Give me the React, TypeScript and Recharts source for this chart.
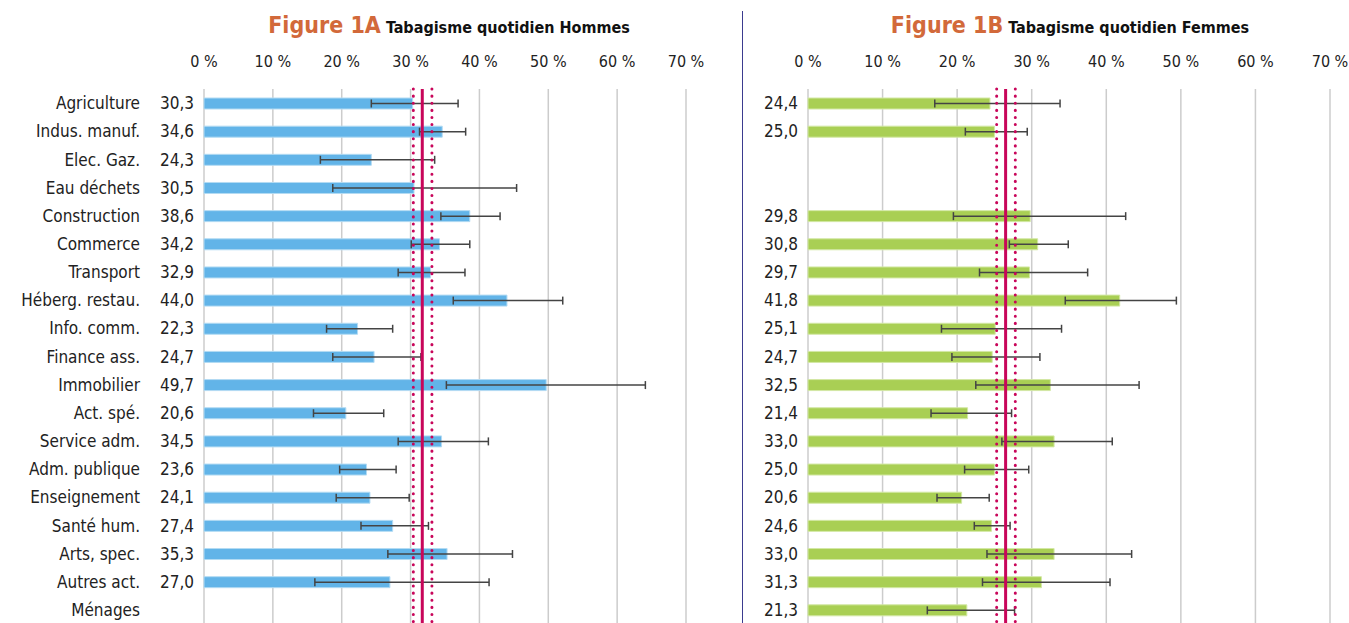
import React from 'react';
import { BarChart, Bar, XAxis, YAxis, CartesianGrid, ReferenceLine, ErrorBar } from 'recharts';

const categories = ['Agriculture', 'Indus. manuf.', 'Elec. Gaz.', 'Eau déchets', 'Construction', 'Commerce', 'Transport', 'Héberg. restau.', 'Info. comm.', 'Finance ass.', 'Immobilier', 'Act. spé.', 'Service adm.', 'Adm. publique', 'Enseignement', 'Santé hum.', 'Arts, spec.', 'Autres act.', 'Ménages'];

const xTicks = [0, 10, 20, 30, 40, 50, 60, 70];

const menValues = [30.3, 34.6, 24.3, 30.5, 38.6, 34.2, 32.9, 44.0, 22.3, 24.7, 49.7, 20.6, 34.5, 23.6, 24.1, 27.4, 35.3, 27.0, null];
const menLow = [24.3, 31.3, 16.9, 18.7, 34.4, 30.1, 28.2, 36.2, 17.8, 18.7, 35.2, 15.9, 28.2, 19.7, 19.2, 22.8, 26.7, 16.1, null];
const menHigh = [36.9, 38.0, 33.5, 45.4, 43.0, 38.6, 37.9, 52.1, 27.4, 31.5, 64.1, 26.1, 41.3, 27.9, 29.8, 32.6, 44.8, 41.4, null];
const menMean = 31.7;
const menMeanLow = 30.4;
const menMeanHigh = 33.1;

const womenValues = [24.4, 25.0, null, null, 29.8, 30.8, 29.7, 41.8, 25.1, 24.7, 32.5, 21.4, 33.0, 25.0, 20.6, 24.6, 33.0, 31.3, 21.3];
const womenLow = [17.0, 21.1, null, null, 19.5, 27.0, 23.0, 34.5, 17.9, 19.3, 22.5, 16.5, 26.0, 21.0, 17.3, 22.3, 24.0, 23.4, 16.0];
const womenHigh = [33.8, 29.4, null, null, 42.6, 34.9, 37.5, 49.4, 34.0, 31.1, 44.4, 27.3, 40.8, 29.6, 24.3, 27.1, 43.4, 40.5, 27.7];
const womenMean = 26.5;
const womenMeanLow = 25.3;
const womenMeanHigh = 27.8;

type Row = { name: string; value: number | null; err: number[] | null };

function buildRows(values: (number | null)[], low: (number | null)[], high: (number | null)[]): Row[] {
  return categories.map((name, i) => {
    const v = values[i];
    const l = low[i];
    const h = high[i];
    return {
      name,
      value: v,
      err: v == null || l == null || h == null ? null : [+(v - l).toFixed(2), +(h - v).toFixed(2)],
    };
  });
}

const menData = buildRows(menValues, menLow, menHigh);
const womenData = buildRows(womenValues, womenLow, womenHigh);

const FONT = "'Liberation Sans Narrow', 'DejaVu Sans Condensed', 'Roboto', sans-serif";
const TEXT = '#222';
const RED = '#c8065a';
const GRID = '#cccccc';

const fmt = (v: number | null) => (v == null ? '' : v.toFixed(1).replace('.', ','));

function makeYTick(values: (number | null)[], showNames: boolean) {
  return (props: any) => {
    const { x, y, index } = props;
    const v = values[index];
    return (
      <g>
        <text x={x} y={y} dy="0.36em" textAnchor="end" fontSize={17} fontFamily={FONT} fill={TEXT}>
          {fmt(v)}
        </text>
        {showNames && (
          <text x={x - 54} y={y} dy="0.36em" textAnchor="end" fontSize={17} fontFamily={FONT} fill={TEXT}>
            {categories[index]}
          </text>
        )}
      </g>
    );
  };
}

function Panel(props: {
  data: Row[];
  values: (number | null)[];
  width: number;
  yWidth: number;
  right: number;
  color: string;
  edge: string;
  mean: number;
  low: number;
  high: number;
  showNames: boolean;
}) {
  const { data, values, width, yWidth, right, color, edge, mean, low, high, showNames } = props;
  return (
    <BarChart
      width={width}
      height={625}
      data={data}
      layout="vertical"
      margin={{ top: 59, right, bottom: 1, left: 0 }}
      barCategoryGap={0}
    >
      <CartesianGrid horizontal={false} stroke={GRID} strokeWidth={1.5} />
      <XAxis
        type="number"
        orientation="top"
        domain={[0, 70]}
        ticks={xTicks}
        interval={0}
        axisLine={false}
        tickLine={false}
        tickSize={6}
        tickMargin={16}
        height={30}
        tickFormatter={(v: number) => `${v} %`}
        tick={{ fontSize: 16, fontFamily: FONT, fill: TEXT }}
      />
      <YAxis
        type="category"
        dataKey="name"
        width={yWidth}
        axisLine={false}
        tickLine={false}
        tickSize={0}
        tickMargin={10}
        interval={0}
        tick={makeYTick(values, showNames)}
      />
      <Bar dataKey="value" fill={color} stroke={edge} strokeWidth={1} barSize={11} isAnimationActive={false}>
        <ErrorBar dataKey="err" direction="x" stroke="#444" strokeWidth={1.5} width={4} />
      </Bar>
      <ReferenceLine x={low} stroke={RED} strokeWidth={3} strokeDasharray="0.1 7" strokeLinecap="round" />
      <ReferenceLine x={high} stroke={RED} strokeWidth={3} strokeDasharray="0.1 7" strokeLinecap="round" />
      <ReferenceLine x={mean} stroke={RED} strokeWidth={3} />
    </BarChart>
  );
}

function Title(props: { fig: string; text: string; center: number }) {
  return (
    <div
      style={{
        position: 'absolute',
        left: props.center - 300,
        width: 600,
        top: 12,
        textAlign: 'center',
        fontFamily: FONT,
        fontWeight: 'bold',
        whiteSpace: 'nowrap',
      }}
    >
      <span style={{ color: '#d2693a', fontSize: 23 }}>{props.fig}</span>{' '}
      <span style={{ color: '#111', fontSize: 16 }}>{props.text}</span>
    </div>
  );
}

export default function App() {
  return (
    <div style={{ position: 'absolute', left: 0, top: 0, width: 1349, height: 623, overflow: 'hidden', background: '#fff' }}>
      <Title fig="Figure 1A" text="Tabagisme quotidien Hommes" center={449} />
      <Title fig="Figure 1B" text="Tabagisme quotidien Femmes" center={1070} />
      <div style={{ position: 'absolute', left: 742, top: 11, width: 1, height: 620, background: '#3b3b8f' }} />
      <div style={{ position: 'absolute', left: 0, top: 0 }}>
        <Panel
          data={menData}
          values={menValues}
          width={720}
          yWidth={204}
          right={34}
          color="#62b4e8"
          edge="#b3dbf3"
          mean={menMean}
          low={menMeanLow}
          high={menMeanHigh}
          showNames={true}
        />
      </div>
      <div style={{ position: 'absolute', left: 742, top: 0 }}>
        <Panel
          data={womenData}
          values={womenValues}
          width={607}
          yWidth={66}
          right={19}
          color="#a9cf54"
          edge="#d3e8a5"
          mean={womenMean}
          low={womenMeanLow}
          high={womenMeanHigh}
          showNames={false}
        />
      </div>
    </div>
  );
}
